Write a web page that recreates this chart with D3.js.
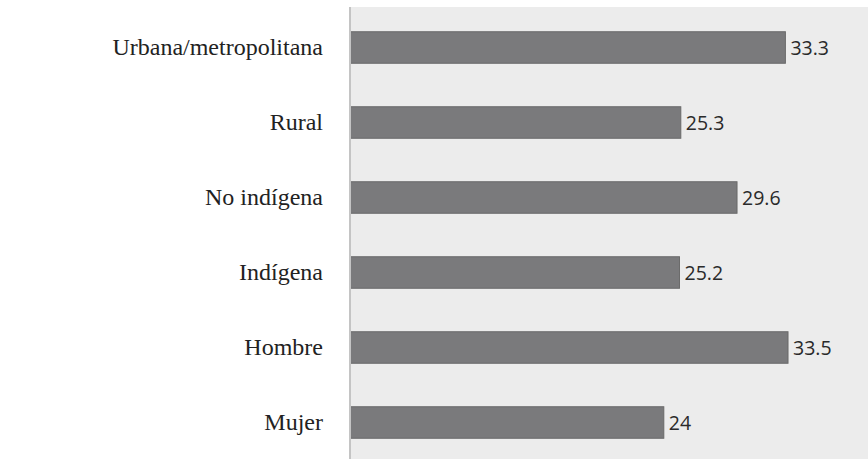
<!DOCTYPE html>
<html>
<head>
<meta charset="utf-8">
<script src="https://cdn.jsdelivr.net/npm/d3@7"></script>
<style>
  body { margin: 0; background: #fff; }
  svg { display: block; }
</style>
</head>
<body>
<svg width="868" height="459"></svg>
<script>
var categories = ["Urbana/metropolitana", "Rural", "No indígena", "Indígena", "Hombre", "Mujer"];
var values = [33.3, 25.3, 29.6, 25.2, 33.5, 24];
var valueLabels = ["33.3", "25.3", "29.6", "25.2", "33.5", "24"];

var data = categories.map(function(c, i) {
  return {cat: c, value: values[i], label: valueLabels[i]};
});

var svg = d3.select("svg"),
    width = 868,
    height = 459,
    margin = {top: 7, left: 350};

var x = d3.scaleLinear()
    .domain([0, 40])
    .range([margin.left, margin.left + 523]);

var y = d3.scaleBand()
    .domain(categories)
    .range([10, 460])
    .paddingInner(0.58)
    .paddingOuter(0.29);

// plot background
svg.append("rect")
    .attr("x", margin.left)
    .attr("y", margin.top)
    .attr("width", width - margin.left)
    .attr("height", height - margin.top)
    .attr("fill", "#ececec");

// bars
svg.append("g")
  .selectAll("rect")
  .data(data)
  .enter().append("rect")
    .attr("x", x(0))
    .attr("y", function(d) { return y(d.cat); })
    .attr("width", function(d) { return x(d.value) - x(0); })
    .attr("height", y.bandwidth())
    .attr("fill", "#7a7a7c")
    .attr("stroke", "#6a6a6a")
    .attr("stroke-width", 1);

// axis line
svg.append("line")
    .attr("x1", x(0))
    .attr("x2", x(0))
    .attr("y1", margin.top)
    .attr("y2", height)
    .attr("stroke", "#c4c4c4")
    .attr("stroke-width", 2);

// category labels
svg.append("g")
  .selectAll("text")
  .data(data)
  .enter().append("text")
    .attr("x", x(0) - 27)
    .attr("y", function(d) { return y(d.cat) + y.bandwidth() / 2; })
    .attr("dy", "0.33em")
    .attr("text-anchor", "end")
    .style("font-family", "'Liberation Serif', 'Times New Roman', serif")
    .style("font-size", "24px")
    .style("fill", "#222")
    .text(function(d) { return d.cat; });

// value labels
svg.append("g")
  .selectAll("text")
  .data(data)
  .enter().append("text")
    .attr("x", function(d) { return x(d.value) + 5; })
    .attr("y", function(d) { return y(d.cat) + y.bandwidth() / 2; })
    .attr("dy", "0.36em")
    .style("font-family", "'Open Sans', sans-serif")
    .style("font-size", "19.5px")
    .style("fill", "#2a2a2a")
    .text(function(d) { return d.label; });
</script>
</body>
</html>
